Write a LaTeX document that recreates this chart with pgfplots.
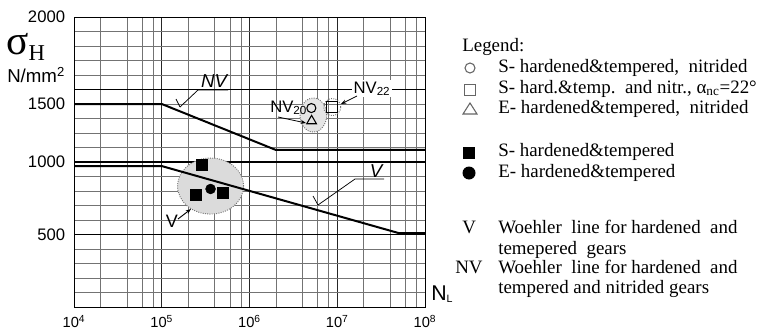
\documentclass[border=0pt]{standalone}
\usepackage{fontspec}
\setmainfont{Liberation Serif}
\setsansfont{Liberation Sans}
\usepackage{pgfplots}
\pgfplotsset{compat=1.18}
\usetikzlibrary{arrows.meta}
\begin{document}
\begin{tikzpicture}
\begin{scope}[x=0.75pt,y=-0.75pt]
\path[use as bounding box] (0,0) rectangle (766,335);
\end{scope}
\begin{axis}[
  at={(55.5pt,-230.25pt)}, anchor=south west,
  scale only axis, width=263.25pt, height=217.5pt,
  xmode=log, log basis x=10,
  xmin=1e4, xmax=1e8, ymin=0, ymax=2000,
  xtick={1e4,1e5,1e6,1e7,1e8},
  xticklabels={10\textsuperscript{4},10\textsuperscript{5},10\textsuperscript{6},10\textsuperscript{7},10\textsuperscript{8}},
  minor xtick={2e4,4e4,6e4,8e4,2e5,4e5,6e5,8e5,2e6,4e6,6e6,8e6,2e7,4e7,6e7,8e7},
  ytick={500,1000,1400,2000},
  yticklabels={500,1000,1500,2000},
  minor ytick={0,100,...,2000},
  xmajorgrids, xminorgrids, yminorgrids,
  major x grid style={black!85, line width=0.75pt},
  minor grid style={black!55, line width=0.45pt},
  extra y ticks={500,1000,1500},
  extra y tick labels={},
  extra y tick style={ymajorgrids=true, major grid style={black, line width=0.95pt}},
  major tick length=0pt, minor tick length=0pt,
  axis line style={black, line width=0.7pt},
  xticklabel style={font=\sffamily\fontsize{11}{12}\selectfont, anchor=north, inner sep=0pt, yshift=-6pt},
  yticklabel style={font=\sffamily\fontsize{12.5}{14}\selectfont, anchor=east, inner sep=0pt, xshift=-6.5pt},
]
% shaded scatter regions
\fill[black!14] (axis cs:3.6e5,834) ellipse [x radius=24.75pt, y radius=21pt];
\draw[black!55, densely dotted, line width=0.7pt] (axis cs:3.6e5,834) ellipse [x radius=24.75pt, y radius=21pt];
\fill[black!10] (axis cs:5.34e6,1324) ellipse [x radius=10pt, y radius=12.75pt];
\draw[black!55, densely dotted, line width=0.7pt] (axis cs:5.34e6,1324) ellipse [x radius=10pt, y radius=12.75pt];
\draw[black!55, densely dotted, line width=0.7pt] (axis cs:8.77e6,1379) circle [radius=6.4pt];
% Woehler lines
\addplot[black, line width=1.5pt] coordinates {(1e4,1400) (1e5,1400) (2e6,1083) (1e8,1083)};
\addplot[black, line width=1.5pt] coordinates {(1e4,972) (1e5,972) (5e7,510) (1e8,510)};
% S- hardened & tempered
\addplot[only marks, mark=square*, mark size=4.1pt, black] coordinates {(2.85e5,979) (2.43e5,772) (4.95e5,786)};
% E- hardened & tempered
\addplot[only marks, mark=*, mark size=3.7pt, black] coordinates {(3.6e5,814)};
% nitrided
\addplot[only marks, mark=o, mark size=3.4pt, black, mark options={line width=0.8pt, fill=white}] coordinates {(5.07e6,1372)};
\addplot[only marks, mark=square, mark size=4pt, black, mark options={line width=0.8pt, fill=white}] coordinates {(8.77e6,1379)};
\addplot[only marks, mark=triangle, mark size=4.2pt, black, mark options={line width=0.8pt, fill=white}] coordinates {(5.1e6,1283)};
\end{axis}
\begin{scope}[x=0.75pt,y=-0.75pt]
% axis titles
\node[anchor=base west, inner sep=0pt] at (6,55) {\fontsize{31}{31}\selectfont σ\raisebox{-4.5pt}{\fontsize{17}{17}\selectfont H}};
\node[anchor=base west, inner sep=0pt, font=\sffamily\fontsize{14}{14}\selectfont] at (7,83) {N/mm\textsuperscript{2}};
\node[anchor=base west, inner sep=0pt, font=\sffamily\fontsize{16}{16}\selectfont] at (431,300) {N\raisebox{-2pt}{\fontsize{8}{8}\selectfont L}};
% annotations
\node[anchor=base, inner sep=0pt, font=\sffamily\itshape\fontsize{14}{14}\selectfont] at (214,88) {NV};
\draw[line width=0.55pt] (228,90)--(198,90)--(180,107);
\draw[line width=0.55pt] (176,99)--(180,107);
\node[anchor=base, inner sep=0pt, font=\sffamily\itshape\fontsize{14}{14}\selectfont] at (376,177) {V};
\draw[line width=0.55pt] (384,179)--(355,179)--(318,205);
\draw[line width=0.55pt] (313,196)--(318,205);
\node[anchor=base, inner sep=0pt, font=\sffamily\fontsize{13.5}{14}\selectfont] at (172,227) {V};
\draw[line width=0.7pt, -{Stealth[length=4pt,width=3pt]}] (178,219)--(191,209);
\node[anchor=base west, inner sep=0pt, font=\sffamily\fontsize{12.5}{14}\selectfont] at (270,112) {NV\textsubscript{20}};
\draw[line width=0.6pt, -{Stealth[length=4pt,width=3pt]}] (278,117)--(306,123);
\node[anchor=base west, inner sep=1pt, fill=white, font=\sffamily\fontsize{12.5}{14}\selectfont] at (352,93) {NV\textsubscript{22}};
\draw[line width=0.6pt, -{Stealth[length=4pt,width=3pt]}] (357,96)--(341,104);
% legend
\begin{scope}[every node/.style={anchor=base west, inner sep=0pt, font=\fontsize{14.2}{14}\selectfont}]
\node at (462,51) {Legend:};
\draw[black!60, line width=0.8pt] (470,68) circle [radius=5];
\node at (498,73) {S- hardened\&tempered,\ \ nitrided};
\draw[black!60, line width=0.8pt] (464.5,84.5) rectangle (475.5,95.5);
\node at (498,93) {S- hard.\&temp.\ \ and nitr., α\textsubscript{nc}=22°};
\draw[black!60, line width=0.8pt] (463,114) -- (477,114) -- (470,103) -- cycle;
\node at (498,113) {E- hardened\&tempered,\ \ nitrided};
\fill[black] (463,147) rectangle (475,159);
\node at (498,156) {S- hardened\&tempered};
\fill[black] (469,173) circle [radius=6.5];
\node at (498,177) {E- hardened\&tempered};
\node at (462,233) {V};
\node at (498,233) {Woehler\ \ line for hardened\ \ and};
\node at (498,254) {temepered\ \ gears};
\node at (455,273) {NV};
\node at (498,273) {Woehler\ \ line for hardened\ \ and};
\node at (498,293) {tempered and nitrided gears};
\end{scope}
\end{scope}
\end{tikzpicture}
\end{document}
